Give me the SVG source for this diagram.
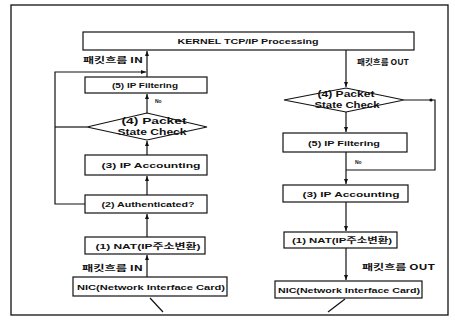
<svg xmlns="http://www.w3.org/2000/svg" width="455" height="324" viewBox="0 0 455 324">
<defs>
<style>
.box{fill:#fff;stroke:#111;stroke-width:1.2}
.ln{fill:none;stroke:#111;stroke-width:1.2}
.t{font-family:"Liberation Sans","Noto Sans CJK KR",sans-serif;font-weight:bold;font-size:8px;fill:#111;text-anchor:middle}
.d{font-size:9px}
.k{font-family:"Noto Sans CJK KR","Liberation Sans",sans-serif;font-weight:bold;font-size:8px;fill:#111}
.s{font-family:"Liberation Sans",sans-serif;font-weight:bold;font-size:5px;fill:#111}
</style>
<marker id="ah" viewBox="0 0 10 10" refX="10" refY="5" markerWidth="5" markerHeight="5" orient="auto" markerUnits="userSpaceOnUse">
<path d="M0,1 L10,5 L0,9 Z" fill="#111"/>
</marker>
</defs>
<rect width="455" height="324" fill="#fff"/>
<rect x="11" y="5" width="437" height="310" fill="none" stroke="#111" stroke-width="1.3"/>

<g id="connectors">
<line class="ln" x1="147" y1="277" x2="147" y2="255" marker-end="url(#ah)"/>
<line class="ln" x1="147" y1="237" x2="147" y2="214" marker-end="url(#ah)"/>
<line class="ln" x1="147" y1="195" x2="147" y2="176" marker-end="url(#ah)"/>
<line class="ln" x1="147" y1="155" x2="147" y2="141" marker-end="url(#ah)"/>
<line class="ln" x1="147" y1="113" x2="147" y2="94" marker-end="url(#ah)"/>
<line class="ln" x1="147" y1="77" x2="147" y2="51" marker-end="url(#ah)"/>
<polyline class="ln" points="85,204 55,204 55,72 146,72" marker-end="url(#ah)"/>
<line class="ln" x1="87" y1="127" x2="55" y2="127"/>
<line class="ln" x1="150" y1="298" x2="163" y2="312"/>
<line class="ln" x1="346" y1="50" x2="346" y2="87" marker-end="url(#ah)"/>
<line class="ln" x1="346" y1="112" x2="346" y2="132" marker-end="url(#ah)"/>
<line class="ln" x1="346" y1="152" x2="346" y2="184" marker-end="url(#ah)"/>
<polyline class="ln" points="404,100 435,100 435,170 346,170"/>
<circle cx="431" cy="100" r="1.6" fill="#111"/>
<line class="ln" x1="346" y1="202" x2="346" y2="231" marker-end="url(#ah)"/>
<line class="ln" x1="346" y1="248" x2="346" y2="280" marker-end="url(#ah)"/>
<line class="ln" x1="345" y1="299" x2="328" y2="312"/>
<text class="k" x="83" y="63" textLength="60" lengthAdjust="spacingAndGlyphs">패킷흐름  IN</text>
<text class="s" x="155" y="103">No</text>
<text class="k" x="82" y="271" textLength="61" lengthAdjust="spacingAndGlyphs">패킷흐름  IN</text>
<text class="k" x="357" y="65" textLength="52" lengthAdjust="spacingAndGlyphs">패킷흐름  OUT</text>
<text class="s" x="355" y="164">No</text>
<text class="k" x="362" y="270" textLength="73" lengthAdjust="spacingAndGlyphs">패킷흐름  OUT</text>
</g>

<g id="kernel">
<rect class="box" x="83" y="32" width="331" height="18"/>
<text class="t" x="248" y="44" font-size="9" textLength="141" lengthAdjust="spacingAndGlyphs">KERNEL TCP/IP Processing</text>
</g>

<g id="in-filtering">
<rect class="box" x="85" y="77" width="122" height="16"/>
<text class="t" x="145" y="88" textLength="66" lengthAdjust="spacingAndGlyphs">(5) IP Filtering</text>
</g>
<g id="in-state-check">
<polygon class="box" points="87,127 147,113 207,127 147,140"/>
<text class="t d" x="154" y="124" textLength="65" lengthAdjust="spacingAndGlyphs">(4)  Packet</text>
<text class="t d" x="152" y="135" textLength="69" lengthAdjust="spacingAndGlyphs">State Check</text>
</g>
<g id="in-accounting">
<rect class="box" x="85" y="155" width="122" height="20"/>
<text class="t" x="151" y="168" textLength="99" lengthAdjust="spacingAndGlyphs">(3)  IP  Accounting</text>
</g>
<g id="in-authenticated">
<rect class="box" x="85" y="195" width="122" height="18"/>
<text class="t" x="148" y="207" textLength="93" lengthAdjust="spacingAndGlyphs">(2) Authenticated?</text>
</g>
<g id="in-nat">
<rect class="box" x="85" y="237" width="120" height="17"/>
<text class="t" x="148" y="249" textLength="105" lengthAdjust="spacingAndGlyphs">(1) NAT(IP주소변환)</text>
</g>
<g id="in-nic">
<rect class="box" x="73" y="277" width="154" height="19"/>
<text class="t" x="151" y="290" font-size="9" textLength="148" lengthAdjust="spacingAndGlyphs">NIC(Network Interface Card)</text>
</g>

<g id="out-state-check">
<polygon class="box" points="284,100 346,88 404,100 346,112"/>
<text class="t d" x="346" y="97" textLength="57" lengthAdjust="spacingAndGlyphs">(4)  Packet</text>
<text class="t d" x="347" y="108" textLength="65" lengthAdjust="spacingAndGlyphs">State Check</text>
</g>
<g id="out-filtering">
<rect class="box" x="283" y="133" width="124" height="19"/>
<text class="t" x="344" y="146" textLength="72" lengthAdjust="spacingAndGlyphs">(5) IP Filtering</text>
</g>
<g id="out-accounting">
<rect class="box" x="283" y="185" width="125" height="17"/>
<text class="t" x="351" y="197" textLength="97" lengthAdjust="spacingAndGlyphs">(3)  IP  Accounting</text>
</g>
<g id="out-nat">
<rect class="box" x="284" y="232" width="113" height="16"/>
<text class="t" x="342" y="243" textLength="100" lengthAdjust="spacingAndGlyphs">(1) NAT(IP주소변환)</text>
</g>
<g id="out-nic">
<rect class="box" x="275" y="281" width="147" height="17"/>
<text class="t" x="349" y="293" font-size="9" textLength="142" lengthAdjust="spacingAndGlyphs">NIC(Network Interface Card)</text>
</g>
</svg>
